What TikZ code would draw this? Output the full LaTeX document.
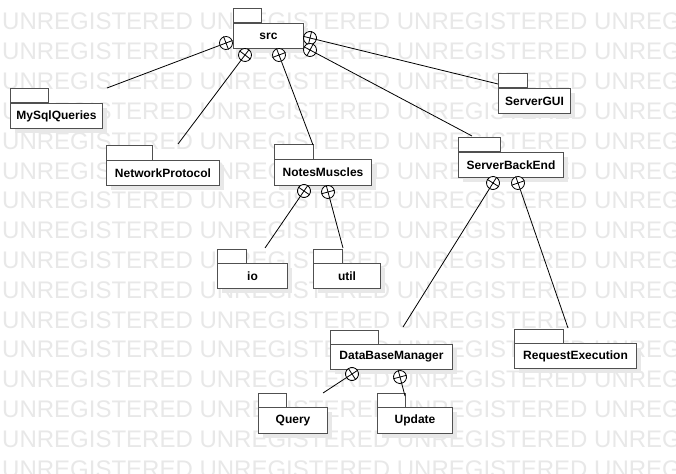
\documentclass[tikz,border=0pt]{standalone}
\usepackage{fontspec}
\setmainfont{Liberation Sans}
\usetikzlibrary{calc}
\definecolor{boxc}{HTML}{505050}
\tikzset{
  pkgbody/.style={draw=boxc, line width=1pt, fill=white, inner sep=0pt,
    font=\fontsize{12}{14}\selectfont\bfseries},
  tabbox/.style={draw=boxc, line width=1pt, fill=white},
  shadowc/.style={fill=black!9},
  containc/.style={circle, draw=black, fill=white, line width=0.8pt,
    minimum size=13pt, inner sep=0pt},
  conn/.style={draw=black, line width=0.8pt},
  wm/.style={text=black!9, font=\fontsize{24}{24}\selectfont, anchor=base west, inner sep=0pt}
}
% name, x1, y1, x2, y2, tab width, label
\newcommand\umlpkg[7]{%
  \fill[shadowc] (#2+5,#3+5) rectangle (#4+5,#5+5);
  \node[pkgbody, minimum width=#4-#2, minimum height=#5-#3, anchor=north west] (#1) at (#2,#3) {#7};
  \draw[tabbox] (#1.north west) rectangle ++(#6,-14);
}
% circle node name, centre coordinate, end coordinate
\newcommand\containline[3]{%
  \path let \p1=($(#3)-(#2)$), \n1={atan2(\y1,\x1)} in node[containc, rotate=\n1] (#1) at (#2) {};
  \draw[conn] (#1.north) -- (#1.south) (#1.east) -- (#1.west);
  \draw[conn] (#1) -- (#3);
}
\begin{document}
\begin{tikzpicture}[x=1pt, y=-1pt]
\useasboundingbox (0,0) rectangle (676,473);
\fill[white] (0,0) rectangle (676,473);
\begin{scope}
\clip (0,0) rectangle (676,473);
\foreach \k in {0,...,15}
  \node[wm] (wm\k) at (2, 30+29.8*\k) {UNREGISTERED UNREGISTERED UNREGISTERED UNREGISTERED};
\end{scope}

\umlpkg{src}{233}{23}{303}{48}{28}{src}
\umlpkg{mysql}{10}{103}{102}{128}{38}{MySqlQueries}
\umlpkg{netp}{106}{160}{219}{185}{46}{NetworkProtocol}
\umlpkg{notes}{274}{159}{371}{185}{39}{NotesMuscles}
\umlpkg{sbe}{458}{152}{563}{177}{42}{ServerBackEnd}
\umlpkg{sgui}{498}{88}{570}{113}{29}{ServerGUI}
\umlpkg{io}{217}{263}{287}{288}{29}{io}
\umlpkg{util}{313}{263}{380}{288}{29}{util}
\umlpkg{dbm}{330}{344}{452}{369}{48}{DataBaseManager}
\umlpkg{rex}{514}{343}{636}{368}{49}{RequestExecution}
\umlpkg{query}{258}{407}{327}{433}{28}{Query}
\umlpkg{update}{377}{407}{452}{433}{28}{Update}

% containment circle centres and free line ends
\coordinate (c1) at (226,43);   \coordinate (e1) at (107,88);
\coordinate (c2) at (245,55);   \coordinate (e2) at (178,144);
\coordinate (c3) at (279,55);   \coordinate (e3) at (313,145);
\coordinate (c4) at (310,38);   \coordinate (e4) at (498,84);
\coordinate (c5) at (310,50);   \coordinate (e5) at (472,136);
\coordinate (c6) at (304,191);  \coordinate (e6) at (265,248);
\coordinate (c7) at (328,192);  \coordinate (e7) at (343,248);
\coordinate (c8) at (493,183);  \coordinate (e8) at (403,327);
\coordinate (c9) at (518,183);  \coordinate (e9) at (568,328);
\coordinate (c10) at (352,374); \coordinate (e10) at (323,393);
\coordinate (c11) at (400,377); \coordinate (e11) at (405,396);

\containline{k1}{c1}{e1}
\containline{k2}{c2}{e2}
\containline{k3}{c3}{e3}
\containline{k4}{c4}{e4}
\containline{k5}{c5}{e5}
\containline{k6}{c6}{e6}
\containline{k7}{c7}{e7}
\containline{k8}{c8}{e8}
\containline{k9}{c9}{e9}
\containline{k10}{c10}{e10}
\containline{k11}{c11}{e11}
\end{tikzpicture}
\end{document}
